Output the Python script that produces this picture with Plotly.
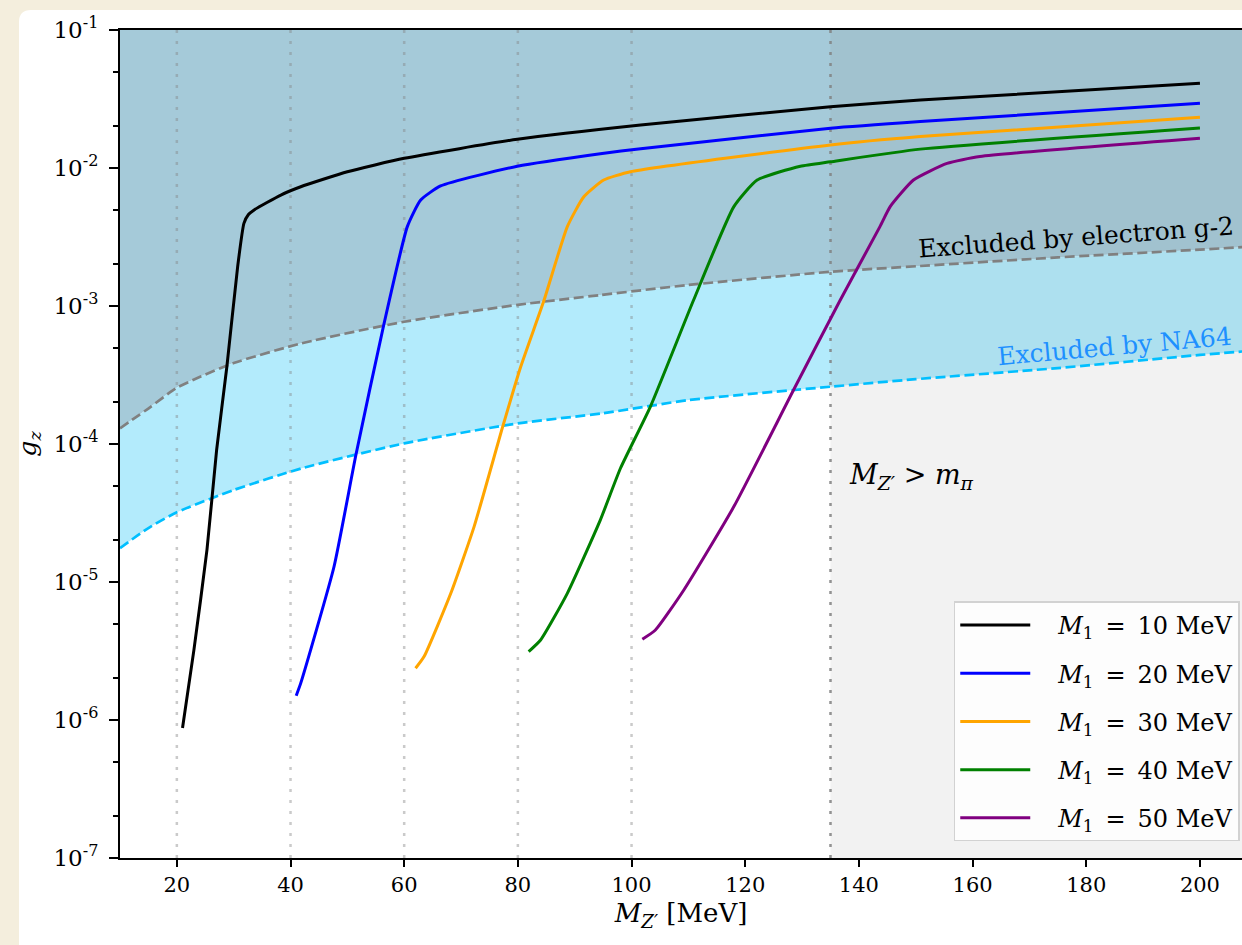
import plotly.graph_objects as go

# ---------------- data ----------------
M1_labels = ["10", "20", "30", "40", "50"]
M1_colors = ["black", "blue", "orange", "green", "purple"]

mz_10 = [21.0, 23.0, 25.3, 27.0, 28.8, 30.7, 31.8, 32.6, 33.6, 38.3, 41.8, 50.0, 60.0, 79.9, 101.6, 135.0, 150.8, 200.0]
gz_10 = [8.75e-7, 3.21e-6, 1.71e-5, 9.05e-5, 3.63e-4, 1.93e-3, 3.97e-3, 4.6e-3, 4.97e-3, 6.37e-3, 7.31e-3, 9.39e-3, 1.175e-2, 1.615e-2, 2.05e-2, 2.78e-2, 3.11e-2, 4.11e-2]

mz_20 = [41.0, 41.8, 47.65, 51.5, 56.4, 60.55, 62.9, 66.4, 79.9, 94.5, 101.6, 135.0, 150.8, 200.0]
gz_20 = [1.50e-6, 1.85e-6, 1.29e-5, 8.32e-5, 7.28e-4, 3.76e-3, 5.86e-3, 7.41e-3, 1.03e-2, 1.27e-2, 1.38e-2, 1.94e-2, 2.17e-2, 2.94e-2]

mz_30 = [62.0, 63.5, 68.2, 72.3, 77.25, 80.5, 84.6, 88.7, 91.6, 95.1, 99.8, 135.0, 150.8, 200.0]
gz_30 = [2.37e-6, 2.88e-6, 8.28e-6, 2.52e-5, 1.30e-4, 3.63e-4, 1.10e-3, 3.76e-3, 6.19e-3, 8.18e-3, 9.40e-3, 1.47e-2, 1.69e-2, 2.33e-2]

mz_40 = [81.9, 84.0, 88.7, 94.5, 98.05, 103.3, 110.9, 118.0, 122.1, 129.7, 135.0, 150.8, 200.0]
gz_40 = [3.13e-6, 3.80e-6, 8.28e-6, 2.81e-5, 6.67e-5, 1.86e-4, 1.10e-3, 5.25e-3, 8.18e-3, 1.03e-2, 1.11e-2, 1.37e-2, 1.95e-2]

mz_50 = [101.9, 104.2, 109.2, 118.0, 128.5, 136.7, 143.7, 145.5, 149.6, 155.5, 161.3, 200.0]
gz_50 = [3.85e-6, 4.49e-6, 8.75e-6, 3.52e-5, 2.46e-4, 1.10e-3, 3.76e-3, 5.25e-3, 8.18e-3, 1.08e-2, 1.21e-2, 1.64e-2]

g2_x = [10, 15.4, 19.8, 24.2, 30, 42, 60, 80, 94.5, 110, 135, 150.8, 175, 200, 208]
g2_y = [1.30e-4, 1.86e-4, 2.53e-4, 3.08e-4, 3.86e-4, 5.37e-4, 7.69e-4, 1.02e-3, 1.20e-3, 1.42e-3, 1.77e-3, 1.95e-3, 2.25e-3, 2.56e-3, 2.68e-3]

na64_x = [10, 15, 20, 30, 42, 60, 80, 95, 110, 135, 150, 175, 200, 208]
na64_y = [1.76e-5, 2.46e-5, 3.2e-5, 4.64e-5, 6.67e-5, 1.01e-4, 1.41e-4, 1.67e-4, 2.08e-4, 2.60e-4, 2.95e-4, 3.55e-4, 4.42e-4, 4.7e-4]

thresholds = [20, 40, 60, 80, 100]
m_pi = 135

x_min, x_max = 10, 207.4
y_min, y_max = 1e-7, 1e-1
x_ticks = [20, 40, 60, 80, 100, 120, 140, 160, 180, 200]
y_ticks = [1e-7, 1e-6, 1e-5, 1e-4, 1e-3, 1e-2, 1e-1]
y_ticktext = ["10<sup>-7</sup>", "10<sup>-6</sup>", "10<sup>-5</sup>", "10<sup>-4</sup>",
              "10<sup>-3</sup>", "10<sup>-2</sup>", "10<sup>-1</sup>"]

curves_x = [mz_10, mz_20, mz_30, mz_40, mz_50]
curves_y = [gz_10, gz_20, gz_30, gz_40, gz_50]

FONT = "DejaVu Serif"
BEIGE = "rgb(244,238,221)"
W, H = 1242, 945
L, R, T, B = 120, 0, 30, 87
NB = "\u00a0"
EN = "\u2002"

fig = go.Figure()
no = dict(showlegend=False, hoverinfo="skip")

# g-2 excluded region: from top of axes down to the g-2 curve
fig.add_trace(go.Scatter(x=[x_min - 1, x_max + 5], y=[y_max, y_max], mode="lines",
                         line=dict(width=0), **no))
fig.add_trace(go.Scatter(x=g2_x, y=g2_y, mode="lines", fill="tonexty",
                         fillcolor="rgb(165,202,217)",
                         line=dict(width=0, shape="spline", smoothing=0.6), **no))
# NA64 excluded region: between g-2 and NA64 curves
fig.add_trace(go.Scatter(x=g2_x, y=g2_y, mode="lines",
                         line=dict(width=0, shape="spline", smoothing=0.6), **no))
fig.add_trace(go.Scatter(x=na64_x, y=na64_y, mode="lines", fill="tonexty",
                         fillcolor="rgb(179,235,252)",
                         line=dict(width=0, shape="spline", smoothing=0.6), **no))
# M_Z' > m_pi region
fig.add_trace(go.Scatter(
    x=[m_pi, m_pi, x_max + 5, x_max + 5], y=[y_min, y_max, y_max, y_min],
    fill="toself", fillcolor="rgba(128,128,128,0.1)", mode="none", **no))

# vertical dotted lines
for xv in thresholds:
    fig.add_trace(go.Scatter(
        x=[xv, xv], y=[y_min, y_max], mode="lines",
        line=dict(color="rgba(128,128,128,0.42)", width=2.5, dash="3px,8px"), **no))
fig.add_trace(go.Scatter(
    x=[m_pi, m_pi], y=[y_min, y_max], mode="lines",
    line=dict(color="rgba(128,128,128,0.85)", width=2.5, dash="3px,8px"), **no))

# boundary lines
fig.add_trace(go.Scatter(
    x=g2_x, y=g2_y, mode="lines",
    line=dict(color="gray", width=2.7, dash="10px,4.5px", shape="spline", smoothing=0.6), **no))
fig.add_trace(go.Scatter(
    x=na64_x, y=na64_y, mode="lines",
    line=dict(color="deepskyblue", width=2.7, dash="10px,4.5px", shape="spline", smoothing=0.6), **no))

# model curves
for i, (cx, cy) in enumerate(zip(curves_x, curves_y)):
    fig.add_trace(go.Scatter(
        x=cx, y=cy, mode="lines",
        line=dict(color=M1_colors[i], width=3, shape="spline", smoothing=0.5),
        name=NB * 3 + "<i>M</i><sub>1</sub>" + EN + "=" + EN + M1_labels[i] + NB + "MeV",
        legendgroup="g" + str(i)))


def px_x(p):
    return (p - L) / (W - L - R)


def px_y(p):
    return (H - B - p) / (H - T - B)


# white card with rounded top-left corner
card = (f"M {px_x(19)},{px_y(960)} L {px_x(19)},{px_y(22)} "
        f"Q {px_x(19)},{px_y(10)} {px_x(31)},{px_y(10)} "
        f"L {px_x(1300)},{px_y(10)} L {px_x(1300)},{px_y(960)} Z")

fig.update_layout(
    width=W, height=H,
    margin=dict(l=L, r=R, t=T, b=B, pad=0),
    paper_bgcolor=BEIGE,
    plot_bgcolor="white",
    font=dict(family=FONT, size=22, color="black"),
    shapes=[dict(type="path", path=card, xref="paper", yref="paper",
                 fillcolor="white", line=dict(width=0), layer="below")],
    xaxis=dict(
        range=[x_min, x_max], tickvals=x_ticks, showgrid=False, zeroline=False,
        ticks="outside", ticklen=7, tickwidth=2, tickcolor="black",
        showline=True, linecolor="black", linewidth=2, mirror=True,
        tickfont=dict(size=21, family=FONT),
        title=dict(text="<i>M</i><sub><i>Z′</i></sub>" + NB + "[MeV]", font=dict(size=26, family=FONT), standoff=8),
    ),
    yaxis=dict(
        type="log", range=[-7, -1], tickvals=y_ticks, ticktext=y_ticktext,
        showgrid=False, zeroline=False,
        ticks="outside", ticklen=9, tickwidth=2, tickcolor="black",
        showline=True, linecolor="black", linewidth=2, mirror=False,
        tickfont=dict(size=23, family=FONT), ticklabelstandoff=6,
        minor=dict(ticks="outside", ticklen=5, tickwidth=1.5, tickcolor="black", showgrid=False),
        title=dict(text="<i>g</i><sub><i>z</i></sub>", font=dict(size=25, family=FONT), standoff=10),
    ),
    legend=dict(
        x=0.998, y=0.02, xanchor="right", yanchor="bottom",
        bgcolor="rgba(255,255,255,0.8)", bordercolor="rgb(210,210,210)", borderwidth=1.5,
        font=dict(size=24, family=FONT), tracegroupgap=14, itemwidth=70,
    ),
    annotations=[
        dict(x=178.2, y=-2.507, xref="x", yref="y", text="Excluded by electron g-2",
             showarrow=False, textangle=-4.2, font=dict(size=25, family=FONT, color="black")),
        dict(x=184.9, y=-3.297, xref="x", yref="y", text="Excluded by NA64",
             showarrow=False, textangle=-5, font=dict(size=25, family=FONT, color="dodgerblue")),
        dict(x=137.9, y=-4.232, xref="x", yref="y", xanchor="left",
             text="<i>M</i><sub><i>Z′</i></sub>" + NB + ">" + NB + "<i>m</i><sub><i>π</i></sub>",
             showarrow=False, font=dict(size=27, family=FONT, color="black")),
    ],
)

fig.write_html(
    "out.html",
    config={"displayModeBar": False},
    post_script="document.body.style.margin='0px';document.body.style.background='" + BEIGE + "';",
)
